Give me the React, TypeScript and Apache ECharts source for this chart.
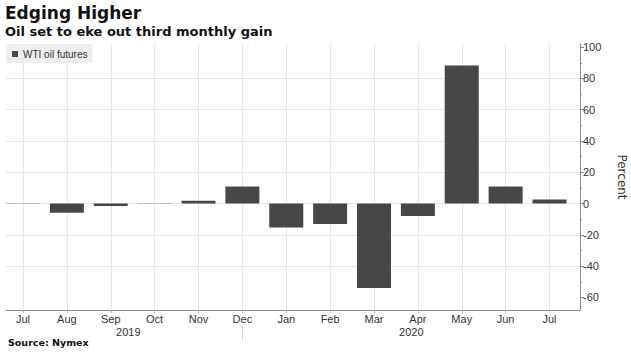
import React, { useEffect, useRef } from 'react';
import * as echarts from 'echarts';

const months = ['Jul', 'Aug', 'Sep', 'Oct', 'Nov', 'Dec', 'Jan', 'Feb', 'Mar', 'Apr', 'May', 'Jun', 'Jul'];
const changes = [0.2, -5.9, -1.5, 0.2, 1.8, 10.9, -15.2, -13.0, -54.0, -7.9, 88.3, 10.9, 2.6];
const yearLabels = ['2019', '2020'];
const yearLabelAt = [2.4, 8.85];
const yearSeparatorAt = 5;
const yTicks = [-60, -40, -20, 0, 20, 40, 60, 80, 100];
const yMinorTicks = [-50, -30, -10, 10, 30, 50, 70, 90];
const yMin = -68;
const yMax = 102;

const cond = '"Liberation Sans", Arial, sans-serif';
const bold = '"DejaVu Sans", sans-serif';

export default function App() {
  const ref = useRef<HTMLDivElement>(null);
  useEffect(() => {
    document.body.style.margin = '0';
    const chart = echarts.init(ref.current!, null, { renderer: 'svg' });
    const axisGray = '#8a8a8a';
    const gridGray = '#e6e6e6';
    chart.setOption({
      animation: false,
      backgroundColor: '#ffffff',
      title: {
        text: 'Edging Higher',
        subtext: 'Oil set to eke out third monthly gain',
        left: 5,
        top: 4,
        padding: 0,
        itemGap: 4,
        textStyle: { fontFamily: bold, fontWeight: 'bold', fontSize: 17, color: '#111' },
        subtextStyle: { fontFamily: bold, fontWeight: 'bold', fontSize: 13, color: '#111' },
      },
      legend: {
        left: 6,
        top: 44,
        backgroundColor: '#eeeeee',
        padding: [5, 5, 4, 6],
        itemWidth: 6,
        itemHeight: 6,
        icon: 'rect',
        textStyle: { fontFamily: cond, fontSize: 10, color: '#333' },
        data: ['WTI oil futures'],
      },
      grid: [
        { left: 6, right: 51, top: 44, bottom: 43, containLabel: false, outerBoundsMode: 'none' },
        { left: 23, right: 81.5, top: 44, bottom: 43, containLabel: false, outerBoundsMode: 'none' },
      ],
      xAxis: [
        {
          gridIndex: 0, type: 'value', min: 0, max: 1,
          axisLine: { show: true, onZero: false, lineStyle: { color: axisGray } },
          axisTick: { show: false }, axisLabel: { show: false }, splitLine: { show: false },
        },
        {
          gridIndex: 1, type: 'value', min: 0, max: months.length - 1, interval: 1,
          axisLine: { show: false, onZero: false },
          axisTick: { show: true, length: 3, lineStyle: { color: '#aaa' } },
          axisLabel: {
            formatter: (v: number) => months[Math.round(v)] ?? '',
            margin: 3, fontFamily: cond, fontSize: 11, color: '#333',
            showMinLabel: true, showMaxLabel: true,
          },
          splitLine: { show: true, lineStyle: { color: gridGray } },
        },
      ],
      yAxis: [
        {
          gridIndex: 0, type: 'value', position: 'right', min: yMin, max: yMax, splitNumber: 8,
          name: 'Percent', nameLocation: 'middle', nameRotate: -90, nameGap: 36,
          nameTextStyle: { fontFamily: '"DejaVu Sans", sans-serif', fontSize: 12, color: '#333' },
          axisLine: { show: true, onZero: false, lineStyle: { color: axisGray } },
          axisTick: { show: true, length: 4, customValues: yTicks, lineStyle: { color: axisGray } },
          axisLabel: { customValues: yTicks, margin: 3, fontFamily: cond, fontSize: 11, color: '#333' },
          splitLine: { show: true, showMinLine: false, showMaxLine: false, lineStyle: { color: gridGray } },
        },
        {
          gridIndex: 0, type: 'value', position: 'right', offset: 0, min: yMin, max: yMax,
          axisLine: { show: false, onZero: false },
          axisTick: { show: true, length: 2, customValues: yMinorTicks, lineStyle: { color: axisGray } },
          axisLabel: { show: false }, splitLine: { show: false },
        },
        { gridIndex: 1, type: 'value', min: yMin, max: yMax, show: false, axisLine: { onZero: false } },
      ],
      series: [
        {
          type: 'bar',
          name: 'WTI oil futures',
          xAxisIndex: 1,
          yAxisIndex: 2,
          barWidth: 34,
          itemStyle: { color: '#474747' },
          data: changes.map((v, i) => [i, v]),
        },
      ],
    });

    const base = chart.convertToPixel({ xAxisIndex: 1, yAxisIndex: 2 } as any, [0, yMin]) as number[];
    const axisY = base[1];
    const graphics: any[] = yearLabels.map((t, i) => {
      const p = chart.convertToPixel({ xAxisIndex: 1, yAxisIndex: 2 } as any, [yearLabelAt[i], yMin]) as number[];
      return {
        type: 'text', x: p[0], y: axisY + 16,
        style: { text: t, textAlign: 'center', textVerticalAlign: 'top', font: `11px ${cond}`, fill: '#333' },
      };
    });
    const sp = chart.convertToPixel({ xAxisIndex: 1, yAxisIndex: 2 } as any, [yearSeparatorAt, yMin]) as number[];
    graphics.push({
      type: 'line',
      shape: { x1: sp[0], y1: axisY + 15, x2: sp[0], y2: axisY + 31 },
      style: { stroke: '#d0d0d0', lineWidth: 1 },
    });
    graphics.push({
      type: 'text', left: 8, top: 337,
      style: { text: 'Source: Nymex', font: `bold 9.5px ${bold}`, fill: '#111' },
    });
    chart.setOption({ graphic: graphics });

    return () => chart.dispose();
  }, []);
  return <div ref={ref} style={{ width: 631, height: 353 }} />;
}
